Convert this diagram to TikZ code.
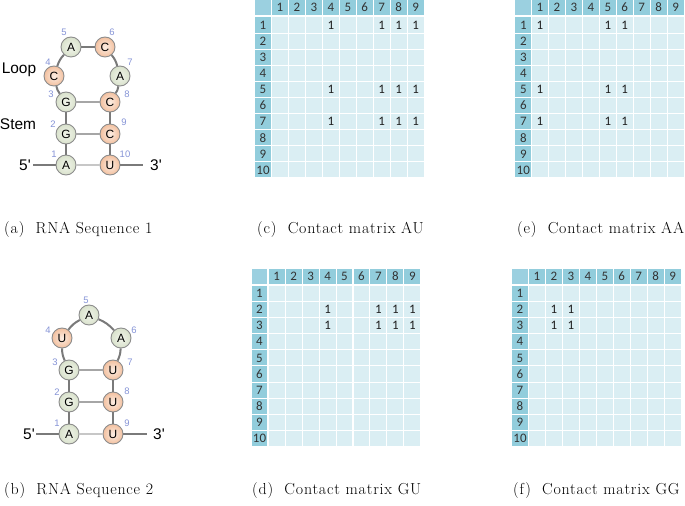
\documentclass[tikz,border=0pt]{standalone}
\usepackage{fontspec}
\newfontfamily\cellfont{Carlito}
\newfontfamily\arialfont{Liberation Sans}
\newfontfamily\captfont[LetterSpace=5]{Latin Modern Roman}
\definecolor{headcol}{HTML}{92CDDC}
\definecolor{cornercol}{HTML}{9BD0E0}
\definecolor{bodycol}{HTML}{DAEEF3}
\definecolor{numblue}{HTML}{8593D6}
\definecolor{greenin}{HTML}{F1F4EA}
\definecolor{greenout}{HTML}{D9E2CC}
\definecolor{orangein}{HTML}{FBEDE3}
\definecolor{orangeout}{HTML}{F3C09F}
\tikzset{
  cellbody/.style={fill=bodycol,draw=none,inner sep=0pt,minimum width=15.9bp,minimum height=15.1bp},
  cellhead/.style={fill=headcol,draw=none,inner sep=0pt,minimum width=15.9bp,minimum height=15.1bp,font=\cellfont\fontsize{13}{13}\selectfont,text=black!80},
  cellone/.style={inner sep=0pt,font=\cellfont\fontsize{13}{13}\selectfont,text=black!88},
  basegreen/.style={circle,draw=black!45,line width=0.9bp,minimum size=20bp,inner sep=0pt,inner color=greenin,outer color=greenout,font=\arialfont\fontsize{12}{12}\selectfont},
  baseorange/.style={circle,draw=black!45,line width=0.9bp,minimum size=20bp,inner sep=0pt,inner color=orangein,outer color=orangeout,font=\arialfont\fontsize{12}{12}\selectfont},
  idx/.style={inner sep=0pt,text=numblue,font=\arialfont\fontsize{9.5}{10}\selectfont},
  tag/.style={inner sep=0pt,font=\arialfont\fontsize{15.5}{16}\selectfont},
  backbone/.style={draw=black!52,line width=2bp},
  pairline/.style={draw=black!35,line width=1.3bp},
  capt/.style={inner sep=0pt,anchor=west,font=\captfont\fontsize{16}{18}\selectfont},
}
\newcommand{\contactgrid}[7]{%
  \foreach \cc in {1,...,9}{\node[cellhead] (#1h\cc) at ({#2+(\cc-1)*16.95},#5) {\cc};}
  \node[cellhead,fill=cornercol] (#1corner) at (#3,#5) {};
  \foreach \rr in {1,...,10}{%
    \node[cellhead] (#1l\rr) at (#3,{#4+(\rr-1)*16.1}) {\rr};
    \foreach \cc in {1,...,9}{\node[cellbody] (#1c\rr x\cc) at ({#2+(\cc-1)*16.95},{#4+(\rr-1)*16.1}) {};}
  }
  \foreach \rr in {#6}{\foreach \cc in {#7}{\node[cellone] (#1v\rr x\cc) at ({#2+(\cc-1)*16.95},{#4+(\rr-1)*16.1}) {1};}}
}
\begin{document}
\begin{tikzpicture}[x=1bp,y=-1bp]
\useasboundingbox (0,0) rectangle (685,506);
% RNA 1
\node[basegreen] (a1) at (66,165) {A};
\node[basegreen] (a2) at (66,134) {G};
\node[basegreen] (a3) at (66,102) {G};
\node[baseorange] (a4) at (54,76) {C};
\node[basegreen] (a5) at (71,47) {A};
\node[baseorange] (a6) at (105,47) {C};
\node[basegreen] (a7) at (120,76) {A};
\node[baseorange] (a8) at (110,102) {C};
\node[baseorange] (a9) at (110,134) {C};
\node[baseorange] (a10) at (110,165) {U};
\coordinate (a5p) at (33,165);
\coordinate (a3p) at (143,165);
\draw[backbone] (a5p) -- (a1) -- (a2) -- (a3);
\draw[backbone] (a3) to[bend left=12] (a4);
\draw[backbone] (a4) to[bend left=12] (a5);
\draw[backbone] (a5) -- (a6);
\draw[backbone] (a6) to[bend left=12] (a7);
\draw[backbone] (a7) to[bend left=12] (a8);
\draw[backbone] (a8) -- (a9) -- (a10) -- (a3p);
\draw[pairline] (a3) -- (a8);
\draw[pairline] (a2) -- (a9);
\draw[pairline,draw=black!22] (a1) -- (a10);
\node[idx] (an1) at (54,154) {1};
\node[idx] (an2) at (53,124) {2};
\node[idx] (an3) at (51,94) {3};
\node[idx] (an4) at (48,62) {4};
\node[idx] (an5) at (64,32) {5};
\node[idx] (an6) at (112,32) {6};
\node[idx] (an7) at (130,62) {7};
\node[idx] (an8) at (127,94) {8};
\node[idx] (an9) at (124,122) {9};
\node[idx] (an10) at (125,154) {10};
\node[tag] (aloop) at (19,69.5) {Loop};
\node[tag] (astem) at (18,124) {Stem};
\node[tag] (a5t) at (25,165) {5'};
\node[tag] (a3t) at (156,165) {3'};
% RNA 2
\node[basegreen] (b1) at (69,434) {A};
\node[basegreen] (b2) at (69,402) {G};
\node[basegreen] (b3) at (69,370) {G};
\node[baseorange] (b4) at (62,338) {U};
\node[basegreen] (b5) at (89,315) {A};
\node[basegreen] (b6) at (121,338) {A};
\node[baseorange] (b7) at (113,370) {U};
\node[baseorange] (b8) at (113,402) {U};
\node[baseorange] (b9) at (113,434) {U};
\coordinate (b5p) at (36,434);
\coordinate (b3p) at (147,434);
\draw[backbone] (b5p) -- (b1) -- (b2) -- (b3);
\draw[backbone] (b3) to[bend left=12] (b4);
\draw[backbone] (b4) to[bend left=12] (b5);
\draw[backbone] (b5) to[bend left=12] (b6);
\draw[backbone] (b6) to[bend left=12] (b7);
\draw[backbone] (b7) -- (b8) -- (b9) -- (b3p);
\draw[pairline] (b3) -- (b7);
\draw[pairline] (b2) -- (b8);
\draw[pairline,draw=black!22] (b1) -- (b9);
\node[idx] (bn1) at (57,423) {1};
\node[idx] (bn2) at (57,392) {2};
\node[idx] (bn3) at (55,362) {3};
\node[idx] (bn4) at (48,330) {4};
\node[idx] (bn5) at (86,300) {5};
\node[idx] (bn6) at (134,330) {6};
\node[idx] (bn7) at (130,362) {7};
\node[idx] (bn8) at (127,391) {8};
\node[idx] (bn9) at (127,423) {9};
\node[tag] (b5t) at (29,434) {5'};
\node[tag] (b3t) at (159,434) {3'};
% Matrices
\contactgrid{mc}{280}{263}{25}{7.5}{1,5,7}{4,7,8,9}
\contactgrid{me}{540}{523.3}{25}{7.5}{1,5,7}{1,5,6}
\contactgrid{md}{276.7}{259.5}{293.5}{276.5}{2,3}{4,7,8,9}
\contactgrid{mf}{537}{520}{293.5}{276.5}{2,3}{2,3}
% Captions
\node[capt] (ca) at (4,229.5) {(a)\ \ RNA Sequence 1};
\node[capt] (cc) at (257,229.5) {(c)\ \ Contact matrix AU};
\node[capt] (ce) at (517,229.5) {(e)\ \ Contact matrix AA};
\node[capt] (cb) at (4,490.5) {(b)\ \ RNA Sequence 2};
\node[capt] (cd) at (252,490.5) {(d)\ \ Contact matrix GU};
\node[capt] (cf) at (513,490.5) {(f)\ \ Contact matrix GG};
\end{tikzpicture}
\end{document}
